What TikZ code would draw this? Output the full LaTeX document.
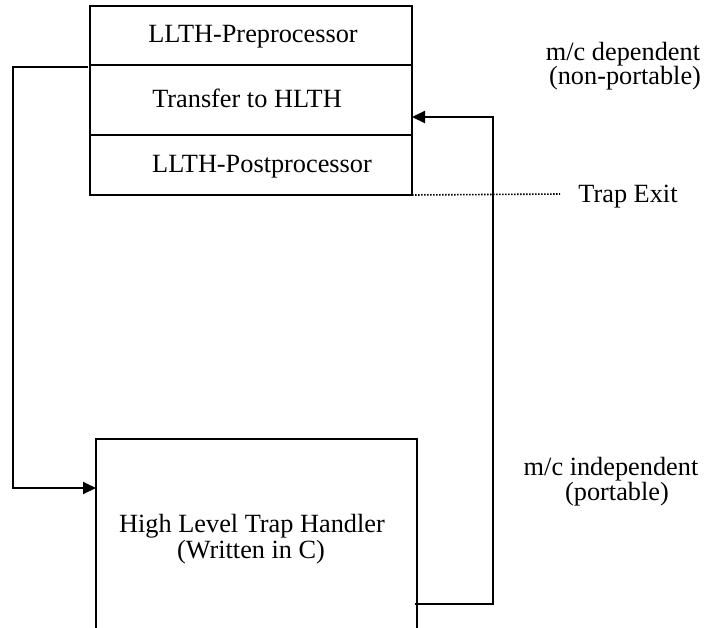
\documentclass[tikz,border=0pt]{standalone}
\usepackage{fontspec}
\setmainfont{Liberation Serif}
\usetikzlibrary{arrows.meta}
\begin{document}
\begin{tikzpicture}[x=1pt,y=-1pt,
  ln/.style={line width=2pt},
  arr/.style={ln,-{Triangle[length=13pt,width=12pt]}},
  box/.style={draw,ln,minimum width=322pt,inner sep=0pt,outer sep=0pt},
  txt/.style={anchor=base,inner sep=0pt,font=\fontsize{26.3}{30}\selectfont}]
\useasboundingbox (0,0) rectangle (706,627);
% top box
\node[box,minimum height=59pt] (pre) at (251,35.5) {};
\node[box,minimum height=70pt] (trans) at (251,100) {};
\node[box,minimum height=60pt] (post) at (251,165) {};
\node[txt] (tpre) at (253,42) {LLTH-Preprocessor};
\node[txt] (ttrans) at (247,107) {Transfer to HLTH};
\node[txt] (tpost) at (262,172) {LLTH-Postprocessor};
% bottom box (open at the bottom)
\node[inner sep=0pt,outer sep=0pt,minimum width=321pt,minimum height=190pt] (hl) at (256.5,534) {};
\draw[ln] (hl.south west) -- (hl.north west) -- (hl.north east) -- (hl.south east);
\node[txt] (thl1) at (252,532) {High Level Trap Handler};
\node[txt] (thl2) at (251,558) {(Written in C)};
% connectors
\coordinate (ls) at (88,67);
\coordinate (lc) at (13,67);
\coordinate (hin) at (hl.west |- 0,488);
\draw[arr] (ls) -- (lc) |- (hin);
\coordinate (rs) at (415,604);
\coordinate (rc) at (493,604);
\coordinate (tin) at (trans.east |- 0,117);
\draw[arr] (rs) -- (rc) |- (tin);
% trap exit
\coordinate (te) at (560,194);
\draw[line width=1.6pt,dash pattern=on 1.6pt off 1.4pt] (post.south east) -- (te);
% labels
\node[txt] (dep1) at (623,60) {m/c dependent};
\node[txt] (dep2) at (625,84) {(non-portable)};
\node[txt] (texit) at (628,202) {Trap Exit};
\node[txt] (ind1) at (611,475) {m/c independent};
\node[txt] (ind2) at (617,500) {(portable)};
\end{tikzpicture}
\end{document}
